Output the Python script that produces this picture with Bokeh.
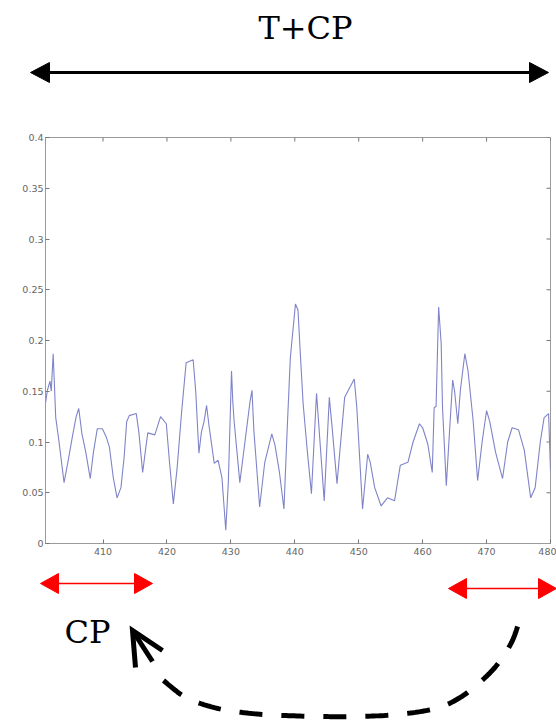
import numpy as np
from bokeh.plotting import figure
from bokeh.layouts import column
from bokeh.models import Range1d, FixedTicker, LinearAxis
from bokeh.core.properties import value
from bokeh.embed import file_html
from bokeh.resources import INLINE

# ---------------- data ----------------
sample_x = [401.0, 401.3, 401.7, 401.9, 402.2, 402.6, 403.1, 403.9, 404.5, 405.2, 405.8, 406.2,
            406.7, 407.3, 408.0, 408.5, 409.1, 409.9, 410.5, 411.0, 411.6, 412.2, 412.8, 413.3,
            413.7, 414.1, 415.2, 415.6, 416.2, 416.6, 417.0, 418.1, 419.0, 419.9, 420.4, 421.0,
            421.6, 422.3, 423.0, 424.1, 424.5, 425.0, 425.4, 425.8, 426.2, 426.6, 427.4, 428.0,
            428.6, 429.2, 429.6, 430.1, 430.3, 430.5, 430.9, 431.4, 432.2, 433.0, 433.3, 433.6,
            434.5, 435.3, 436.4, 436.9, 437.6, 438.3, 438.8, 439.3, 440.1, 440.5, 440.9, 441.3,
            441.9, 442.6, 443.4, 444.0, 444.6, 445.4, 445.9, 446.6, 447.8, 449.3, 449.7, 450.6,
            451.4, 451.8, 452.5, 453.5, 454.5, 455.6, 456.5, 457.7, 458.5, 459.5, 460.0, 460.8,
            461.5, 461.8, 462.1, 462.5, 462.9, 463.1, 463.7, 464.2, 464.7, 465.0, 465.5, 465.9,
            466.6, 467.1, 467.9, 468.6, 469.3, 470.0, 470.5, 471.4, 472.5, 473.3, 474.0, 475.0,
            475.9, 476.9, 477.6, 478.4, 479.0, 479.7, 480.0]
signal = [0.138, 0.151, 0.160, 0.150, 0.187, 0.124, 0.101, 0.060, 0.080, 0.105, 0.125, 0.133,
          0.108, 0.090, 0.064, 0.090, 0.113, 0.113, 0.105, 0.095, 0.065, 0.045, 0.055, 0.085,
          0.120, 0.126, 0.128, 0.110, 0.070, 0.090, 0.109, 0.107, 0.125, 0.118, 0.080, 0.039,
          0.075, 0.130, 0.178, 0.181, 0.150, 0.089, 0.110, 0.120, 0.136, 0.115, 0.079, 0.082,
          0.065, 0.013, 0.060, 0.170, 0.140, 0.121, 0.094, 0.060, 0.100, 0.140, 0.151, 0.111,
          0.036, 0.080, 0.108, 0.097, 0.070, 0.034, 0.111, 0.183, 0.236, 0.230, 0.183, 0.138,
          0.095, 0.049, 0.148, 0.095, 0.042, 0.144, 0.110, 0.059, 0.144, 0.162, 0.134, 0.034,
          0.088, 0.080, 0.055, 0.037, 0.045, 0.042, 0.077, 0.080, 0.100, 0.118, 0.114, 0.098,
          0.070, 0.134, 0.135, 0.233, 0.197, 0.135, 0.057, 0.110, 0.161, 0.150, 0.118, 0.151,
          0.187, 0.170, 0.121, 0.062, 0.100, 0.131, 0.120, 0.090, 0.064, 0.100, 0.114, 0.112,
          0.092, 0.045, 0.055, 0.100, 0.124, 0.128, 0.072]
x_ticks = [410, 420, 430, 440, 450, 460, 470, 480]
y_ticks = [0, 0.05, 0.1, 0.15, 0.2, 0.25, 0.3, 0.35, 0.4]
y_tick_labels = ["0", "0.05", "0.1", "0.15", "0.2", "0.25", "0.3", "0.35", "0.4"]
x_min, x_max = 401, 480
y_min, y_max = 0, 0.4

title_text = "T+CP"
cp_text = "CP"

# ---------------- layout (page pixels) ----------------
W = 556
TOP_H, MID_H, BOT_H = 120, 450, 150          # stacked figures, total 720
FR_L, FR_R, FR_T, FR_B = 45, 550, 137, 543   # chart frame on the page


def deco_fig(h, y0):
    f = figure(width=W, height=h, output_backend="svg", toolbar_location=None,
               x_range=Range1d(0, W), y_range=Range1d(y0 + h, y0),
               x_axis_location=None, y_axis_location=None, min_border=0,
               frame_align=False)
    f.xgrid.visible = False
    f.ygrid.visible = False
    f.outline_line_color = None
    return f


def harrow(f, x0, x1, y, color, lw, L, w):
    # horizontal double arrow with filled triangular heads
    f.segment(x0=[x0 + L - 1], y0=[y], x1=[x1 - L + 1], y1=[y], line_color=color, line_width=lw)
    f.patches(xs=[[x0, x0 + L, x0 + L], [x1, x1 - L, x1 - L]],
              ys=[[y, y - w / 2, y + w / 2], [y, y - w / 2, y + w / 2]],
              fill_color=color, line_color=color, line_width=1)


# ---- top strip: title + black arrow ----
top = deco_fig(TOP_H, 0)
top.text(x=[305], y=[27], text=[title_text], text_font=value("DejaVu Serif"),
         text_font_size=value("32px"), text_align="center", text_baseline="middle",
         text_color="black")
harrow(top, 30, 548, 72, "black", 3, 19, 20)

# ---- chart ----
p = figure(width=W, height=MID_H, output_backend="svg", toolbar_location=None,
           x_range=Range1d(x_min, x_max), y_range=Range1d(y_min, y_max),
           x_axis_location=None, y_axis_location=None, frame_align=False,
           min_border_left=FR_L, min_border_right=W - FR_R,
           min_border_top=FR_T - TOP_H, min_border_bottom=TOP_H + MID_H - FR_B)
p.xgrid.visible = False
p.ygrid.visible = False
p.outline_line_color = "#9a9a9a"

AX = "#9a9a9a"
LBL = "#666666"


def style_axis(ax):
    ax.axis_line_color = AX
    ax.major_tick_line_color = "#777777"
    ax.major_tick_in = 4
    ax.major_tick_out = 0
    ax.minor_tick_line_color = None
    ax.major_label_text_font = "DejaVu Sans"
    ax.major_label_text_font_size = "9.5px"
    ax.major_label_text_color = LBL
    ax.major_label_standoff = 4


xb = LinearAxis(ticker=FixedTicker(ticks=x_ticks))
style_axis(xb)
p.add_layout(xb, "below")
yl = LinearAxis(ticker=FixedTicker(ticks=y_ticks),
                major_label_overrides={t: s for t, s in zip(y_ticks, y_tick_labels)})
style_axis(yl)
yl.major_label_standoff = 2
p.add_layout(yl, "left")

# inward ticks on the top and right edges of the box (matlab style)
tick_dx = 4 * (x_max - x_min) / (FR_R - FR_L)
tick_dy = 4 * (y_max - y_min) / (FR_B - FR_T)
p.segment(x0=x_ticks, y0=[y_max] * len(x_ticks), x1=x_ticks, y1=[y_max - tick_dy] * len(x_ticks),
          line_color="#777777", line_width=1)
p.segment(x0=[x_max] * len(y_ticks), y0=y_ticks, x1=[x_max - tick_dx] * len(y_ticks), y1=y_ticks,
          line_color="#777777", line_width=1)

p.line(sample_x, signal, line_color="#7f84c8", line_width=1.1)

# ---- bottom strip: red arrows, CP, dashed curved arrow ----
y0 = TOP_H + MID_H
bot = deco_fig(BOT_H, y0)
harrow(bot, 40, 152, 583, "#ff0000", 1.5, 18, 20)
harrow(bot, 448, 556, 588, "#ff0000", 1.5, 18, 20)
bot.text(x=[87], y=[631], text=[cp_text], text_font=value("DejaVu Serif"),
         text_font_size=value("32px"), text_align="center", text_baseline="middle",
         text_color="black")

# path traced from the arrow end (left) back to the start (right) so the dash
# pattern begins with a full dash next to the arrow head
path = np.array([(163, 680), (182, 695), (200, 703), (222, 709), (242, 712), (263, 714),
                 (284, 715), (319, 716), (355, 716), (397, 714), (435, 708), (458, 698),
                 (478, 683), (496, 665), (511, 642), (519, 620)], float)


def catmull(pts, n=16):
    P = np.vstack([pts[0], pts, pts[-1]])
    out = []
    for i in range(1, len(P) - 2):
        p0, p1, p2, p3 = P[i - 1], P[i], P[i + 1], P[i + 2]
        for t in np.linspace(0, 1, n, endpoint=False):
            out.append(0.5 * ((2 * p1) + (-p0 + p2) * t + (2 * p0 - 5 * p1 + 4 * p2 - p3) * t ** 2
                              + (-p0 + 3 * p1 - 3 * p2 + p3) * t ** 3))
    out.append(pts[-1])
    return np.array(out)


c = catmull(path)
bot.line(c[:, 0], c[:, 1], line_color="black", line_width=5, line_dash="23 19",
         line_cap="butt")
# open arrow head pointing up-left
tip = (132, 630)
bot.multi_line(xs=[[162, tip[0], 135], [tip[0], 152]], ys=[[650, tip[1], 667], [tip[1], 661]],
               line_color="black", line_width=5, line_join="miter")

layout = column(top, p, bot, spacing=0)
open("out.html", "w").write(file_html(layout, INLINE))
